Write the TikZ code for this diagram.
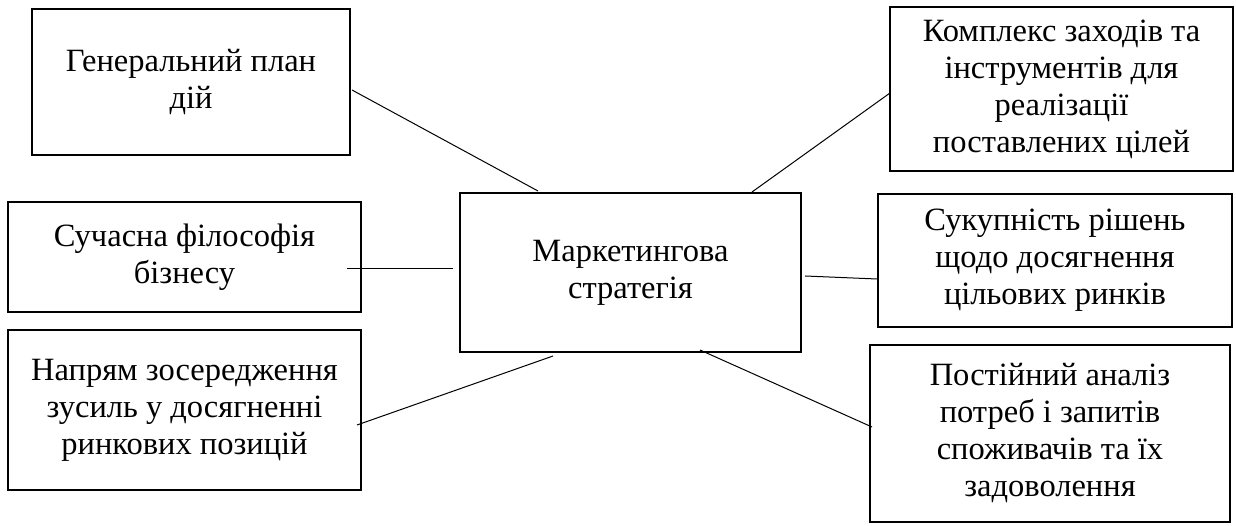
\documentclass[tikz,border=0pt]{standalone}
\usepackage{fontspec}
\setmainfont{Liberation Serif}
\begin{document}
\begin{tikzpicture}[x=1pt,y=-1pt,
  box/.style={draw,line width=2.7pt,inner sep=0pt,align=center,
    font=\fontsize{32.5}{37}\selectfont},
  link/.style={line width=1pt}]
\useasboundingbox (0,0) rectangle (1236,526);

% central concept
\node[box,minimum width=341pt,minimum height=159pt] (mark) at (630.5,272.5)
  {Маркетингова\\стратегія};

% surrounding definitions
\node[box,minimum width=318pt,minimum height=146pt] (gen) at (191,82)
  {Генеральний план\\дій};
\node[box,minimum width=353pt,minimum height=110pt] (suc) at (184.5,257)
  {Сучасна філософія\\бізнесу};
\node[box,minimum width=353pt,minimum height=160pt] (nap) at (184.5,410)
  {Напрям зосередження\\зусиль у досягненні\\ринкових позицій};
\node[box,minimum width=343pt,minimum height=164pt] (kom) at (1061.5,89)
  {Комплекс заходів та\\інструментів для\\реалізації\\поставлених цілей};
\node[box,minimum width=354pt,minimum height=133pt] (suk) at (1055,260.5)
  {Сукупність рішень\\щодо досягнення\\цільових ринків};
\node[box,minimum width=360pt,minimum height=177pt] (pos) at (1050,433.5)
  {Постійний аналіз\\потреб і запитів\\споживачів та їх\\задоволення};

% connector end points
\coordinate (genA) at (352,90);   \coordinate (genB) at (538,191);
\coordinate (komA) at (890,93);   \coordinate (komB) at (752,192);
\coordinate (sucA) at (347,269);  \coordinate (sucB) at (453,269);
\coordinate (sukA) at (805,276);  \coordinate (sukB) at (877,279);
\coordinate (napA) at (357,425);  \coordinate (napB) at (553,356);
\coordinate (posA) at (700,350);  \coordinate (posB) at (872,427);

\draw[link] (genA) -- (genB);
\draw[link] (komA) -- (komB);
\draw[link] (sucA) -- (sucB);
\draw[link] (sukA) -- (sukB);
\draw[link] (napA) -- (napB);
\draw[link] (posA) -- (posB);
\end{tikzpicture}
\end{document}
